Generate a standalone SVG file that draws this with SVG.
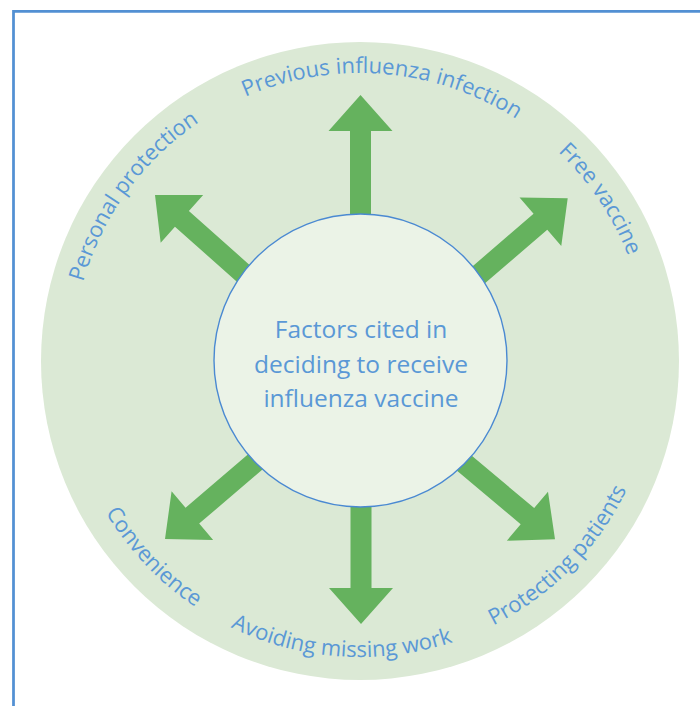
<svg xmlns="http://www.w3.org/2000/svg" xmlns:xlink="http://www.w3.org/1999/xlink" width="700" height="706" viewBox="0 0 700 706">
  <style>
    .frame { fill: none; stroke: #5290d3; stroke-width: 2.75; }
    .ring { fill: #dbe9d5; }
    .hub { fill: #ebf3e7; stroke: #4a89d2; stroke-width: 1.4; }
    .arrow { fill: #65b25e; }
    .lbl { font-family: "Open Sans", "Noto Sans", sans-serif; font-size: 22px; fill: #5a98d6; }
    .hubtext { font-family: "Open Sans", "Noto Sans", sans-serif; font-size: 24.5px; fill: #5a98d6; text-anchor: middle; }
  </style>
  <defs>
    <!-- block arrow pointing along +x, tip at the origin -->
    <path id="arrow" d="M0,0 L-36,-32 L-36,-10.5 L-170,-10.5 L-170,10.5 L-36,10.5 L-36,32 Z"/>
    <!-- clockwise baselines (letters face outward) -->
    <path id="arcTop" d="M98.4,240.6 A288,288 0 0 1 637.8,285.0"/>
    <path id="arcUpperLeft" d="M121.2,522.0 A288,288 0 0 1 439.4,84.2"/>
    <path id="arcUpperRight" d="M290.3,81.6 A288,288 0 0 1 593.0,530.3"/>
    <!-- counter-clockwise baselines (letters face the centre) -->
    <path id="arcBottom" d="M75.7,443.6 A296,296 0 0 0 630.8,480.4"/>
    <path id="arcLowerRight" d="M237.2,630.4 A296,296 0 0 0 627.2,233.6"/>
    <path id="arcLowerLeft" d="M95.1,228.9 A296,296 0 0 0 478.0,632.5"/>
  </defs>

  <!-- page frame -->
  <path class="frame" d="M13.5,706 V11.4 H700"/>

  <!-- background disc -->
  <circle class="ring" cx="360" cy="361" r="319"/>

  <g id="connectors">
    <use xlink:href="#arrow" class="arrow" transform="translate(360.5,95) rotate(-90)"/>
    <use xlink:href="#arrow" class="arrow" transform="translate(567.7,198.3) rotate(-40.7)"/>
    <use xlink:href="#arrow" class="arrow" transform="translate(555,539.3) rotate(40)"/>
    <use xlink:href="#arrow" class="arrow" transform="translate(361,624) rotate(90)"/>
    <use xlink:href="#arrow" class="arrow" transform="translate(165,539) rotate(139.5)"/>
    <use xlink:href="#arrow" class="arrow" transform="translate(155,195) rotate(-138.4)"/>
  </g>

  <g id="hub">
    <circle class="hub" cx="360.5" cy="360.5" r="146.5"/>
    <text class="hubtext" x="361" y="338">Factors cited in</text>
    <text class="hubtext" x="361" y="373">deciding to receive</text>
    <text class="hubtext" x="361" y="407">influenza vaccine</text>
  </g>

  <g id="previous-infection">
    <text class="lbl"><textPath xlink:href="#arcTop" startOffset="50%" text-anchor="middle">Previous influenza infection</textPath></text>
  </g>
  <g id="free-vaccine">
    <text class="lbl"><textPath xlink:href="#arcUpperRight" startOffset="50%" text-anchor="middle">Free vaccine</textPath></text>
  </g>
  <g id="protecting-patients">
    <text class="lbl"><textPath xlink:href="#arcLowerRight" startOffset="50%" text-anchor="middle">Protecting patients</textPath></text>
  </g>
  <g id="avoiding-missing-work">
    <text class="lbl"><textPath xlink:href="#arcBottom" startOffset="50%" text-anchor="middle">Avoiding missing work</textPath></text>
  </g>
  <g id="convenience">
    <text class="lbl"><textPath xlink:href="#arcLowerLeft" startOffset="50%" text-anchor="middle">Convenience</textPath></text>
  </g>
  <g id="personal-protection">
    <text class="lbl"><textPath xlink:href="#arcUpperLeft" startOffset="50%" text-anchor="middle">Personal protection</textPath></text>
  </g>
</svg>
